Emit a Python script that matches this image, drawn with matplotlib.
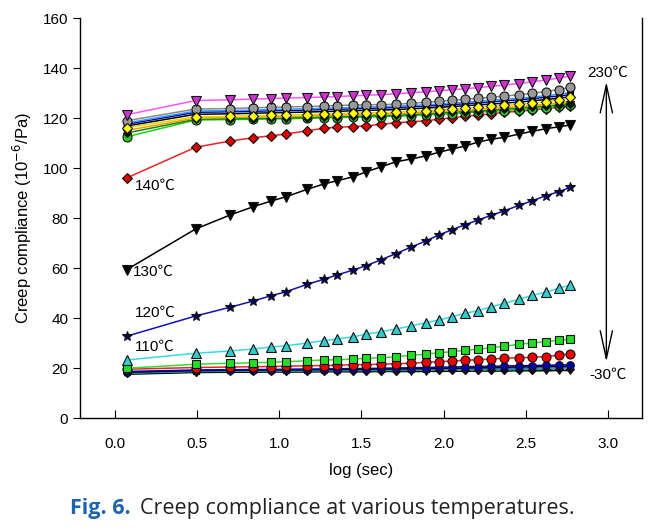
import numpy as np
import matplotlib.pyplot as plt

plt.rcParams['font.family'] = ['Liberation Sans', 'DejaVu Sans']

# log time points (same for every temperature)
log_t = [0.07, 0.49, 0.70, 0.84, 0.95, 1.04, 1.17, 1.27, 1.35, 1.45, 1.53, 1.62, 1.71,
         1.80, 1.89, 1.97, 2.05, 2.13, 2.21, 2.29, 2.37, 2.46, 2.54, 2.62, 2.70, 2.77]

# creep compliance (10^-6 /Pa)
j_230 = [121.3, 127.0, 127.3, 127.6, 127.8, 128.0, 128.2, 128.4, 128.6, 128.9, 129.1, 129.4, 129.7,
         130.1, 130.5, 130.9, 131.3, 131.7, 132.2, 132.7, 133.2, 133.8, 134.5, 135.2, 136.0, 136.8]
j_220 = [118.9, 123.6, 123.8, 124.1, 124.3, 124.4, 124.6, 124.8, 125.0, 125.2, 125.3, 125.4, 125.5,
         125.9, 126.3, 126.7, 127.1, 127.5, 127.9, 128.3, 128.8, 129.3, 129.9, 130.6, 131.4, 132.3]
j_210 = [118.0, 122.8, 123.0, 123.2, 123.4, 123.5, 123.7, 123.9, 124.0, 124.2, 124.4, 124.5, 124.7,
         125.0, 125.3, 125.6, 126.0, 126.3, 126.7, 127.1, 127.5, 127.9, 128.4, 128.9, 129.5, 130.2]
j_200 = [117.5, 122.3, 122.5, 122.7, 122.9, 123.0, 123.2, 123.4, 123.5, 123.7, 123.9, 124.0, 124.2,
         124.5, 124.8, 125.1, 125.4, 125.7, 126.1, 126.5, 126.9, 127.3, 127.8, 128.3, 128.8, 129.4]
j_190 = [116.8, 121.5, 121.7, 121.9, 122.1, 122.2, 122.4, 122.6, 122.7, 122.9, 123.1, 123.2, 123.4,
         123.7, 124.0, 124.3, 124.6, 124.9, 125.3, 125.6, 126.0, 126.4, 126.9, 127.4, 127.9, 128.5]
j_180 = [116.1, 120.5, 120.7, 120.9, 121.1, 121.2, 121.4, 121.6, 121.8, 122.0, 122.1, 122.2, 122.3,
         122.7, 123.0, 123.3, 123.6, 123.9, 124.3, 124.7, 125.1, 125.5, 126.0, 126.6, 127.2, 128.3]
j_170 = [115.0, 120.0, 120.2, 120.4, 120.5, 120.6, 120.8, 121.0, 121.1, 121.3, 121.4, 121.6, 121.7,
         122.0, 122.3, 122.6, 122.9, 123.2, 123.5, 123.9, 124.2, 124.6, 125.0, 125.5, 126.0, 126.6]
j_160 = [114.0, 119.5, 119.7, 119.8, 119.9, 120.0, 120.2, 120.4, 120.5, 120.7, 120.8, 121.0, 121.1,
         121.4, 121.7, 122.0, 122.3, 122.6, 122.9, 123.2, 123.6, 124.0, 124.4, 124.8, 125.3, 125.8]
j_150 = [112.5, 119.2, 119.4, 119.5, 119.6, 119.7, 119.9, 120.0, 120.2, 120.3, 120.4, 120.5, 120.7,
         120.9, 121.2, 121.5, 121.8, 122.1, 122.4, 122.7, 123.0, 123.4, 123.8, 124.2, 124.7, 125.2]
j_140 = [96.0, 108.3, 110.8, 112.1, 112.9, 113.6, 114.9, 115.9, 116.3, 116.6, 116.9, 117.5, 118.1,
         118.5, 118.9, 119.5, 120.1, 120.7, 121.2, 121.7, 122.3, 122.7, 123.3, 123.8, 124.3, 124.8]
j_130 = [59.3, 75.6, 81.2, 84.5, 86.8, 88.5, 91.5, 93.6, 94.9, 96.5, 98.5, 100.5, 102.5,
         103.6, 104.8, 106.3, 107.6, 108.8, 110.4, 111.5, 112.3, 113.6, 114.7, 115.7, 116.5, 117.2]
j_120 = [32.7, 40.8, 44.3, 46.8, 48.9, 50.5, 53.5, 55.5, 57.2, 59.2, 61.0, 63.3, 65.8,
         68.3, 70.8, 73.2, 75.3, 77.3, 79.2, 81.1, 82.9, 85.1, 86.9, 88.9, 90.5, 92.3]
j_110 = [23.2, 25.9, 26.8, 27.6, 28.4, 28.9, 30.0, 30.9, 31.6, 32.5, 33.6, 34.5, 35.6,
         36.8, 38.1, 39.2, 40.5, 41.9, 42.9, 44.5, 45.9, 47.5, 49.1, 50.3, 51.9, 53.2]
j_100 = [19.9, 21.5, 21.9, 22.1, 22.3, 22.5, 22.9, 23.2, 23.3, 23.6, 23.9, 24.1, 24.5,
         25.1, 25.5, 26.1, 26.5, 27.1, 27.5, 28.1, 28.7, 29.5, 30.1, 30.5, 31.1, 31.5]
j_90 = [19.5, 20.2, 20.4, 20.5, 20.6, 20.7, 20.9, 21.0, 21.1, 21.3, 21.4, 21.5, 21.7,
        21.9, 22.3, 22.5, 22.8, 23.1, 23.3, 23.6, 23.9, 24.1, 24.3, 24.6, 25.1, 25.6]
j_80 = [18.6, 19.2, 19.3, 19.4, 19.4, 19.5, 19.6, 19.6, 19.7, 19.8, 19.8, 19.9, 20.0,
        20.1, 20.2, 20.3, 20.4, 20.5, 20.6, 20.7, 20.8, 20.9, 21.0, 21.1, 21.2, 21.3]
j_60 = [18.3, 19.0, 19.1, 19.2, 19.2, 19.3, 19.3, 19.4, 19.4, 19.5, 19.5, 19.6, 19.6,
        19.7, 19.8, 19.9, 19.9, 20.0, 20.1, 20.2, 20.3, 20.4, 20.5, 20.6, 20.7, 20.8]
j_30 = [18.1, 18.8, 18.9, 19.0, 19.0, 19.1, 19.1, 19.2, 19.2, 19.3, 19.3, 19.3, 19.4,
        19.4, 19.5, 19.5, 19.6, 19.6, 19.7, 19.8, 19.8, 19.9, 20.0, 20.0, 20.1, 20.2]
j_0 = [17.9, 18.6, 18.7, 18.7, 18.8, 18.8, 18.8, 18.9, 18.9, 18.9, 19.0, 19.0, 19.0,
       19.1, 19.1, 19.1, 19.2, 19.2, 19.2, 19.3, 19.3, 19.4, 19.4, 19.5, 19.5, 19.6]
j_m30 = [17.5, 18.2, 18.3, 18.3, 18.4, 18.4, 18.4, 18.5, 18.5, 18.5, 18.5, 18.6, 18.6,
         18.6, 18.6, 18.7, 18.7, 18.7, 18.8, 18.8, 18.8, 18.9, 18.9, 18.9, 19.0, 19.0]

# (values, line colour, marker, marker fill, marker size)
series = [
    (j_m30, '#000000', 'v', '#000000', 5),
    (j_0, '#22AA55', 'D', '#000000', 4),
    (j_30, '#3366FF', 'o', '#000000', 4),
    (j_60, '#000000', 's', '#000000', 4),
    (j_80, '#0000AA', 'o', '#0000AA', 5.5),
    (j_90, '#EE2222', 'o', '#EE0000', 6.5),
    (j_100, '#33DD33', 's', '#22DD22', 6),
    (j_110, '#33DDDD', '^', '#33CCCC', 6.5),
    (j_120, '#1111BB', '*', '#000066', 7.5),
    (j_130, '#000000', 'v', '#000000', 6.5),
    (j_140, '#EE2222', 'D', '#DD0000', 5.5),
    (j_150, '#22CC22', 'o', '#22CC22', 6.5),
    (j_160, '#118811', 'D', '#000000', 4),
    (j_170, '#FF9900', '*', '#000000', 6),
    (j_190, '#000000', 'o', '#000000', 5),
    (j_200, '#000099', 'o', '#000099', 4),
    (j_210, '#3399FF', 's', '#000000', 4),
    (j_220, '#888888', 'o', '#999999', 6.5),
    (j_180, '#DDDD00', 'D', '#FFFF00', 5.5),
    (j_230, '#FF55FF', 'v', '#CC33CC', 6.5),
]

fig = plt.figure(figsize=(6.59, 5.31), dpi=100)
ax = fig.add_axes([0.1214, 0.2128, 0.8528, 0.7532])

for vals, lc, mk, mfc, ms in series:
    ax.plot(log_t, vals, '-', color=lc, linewidth=1.1, marker=mk,
            markerfacecolor=mfc, markeredgecolor='#111111', markeredgewidth=0.8,
            markersize=ms)

# temperature labels
for x, y, s in [(0.12, 92.8, '140℃'), (0.11, 58.4, '130℃'),
                (0.12, 42.0, '120℃'), (0.12, 28.4, '110℃')]:
    ax.text(x, y, s, fontsize=11, ha='left', va='center',
            family=['Liberation Sans', 'Noto Sans CJK JP'])

ax.text(3.0, 137.9, '230℃', fontsize=11, ha='center', va='center',
        family=['Liberation Sans', 'Noto Sans CJK JP'])
ax.text(3.0, 17.3, '-30℃', fontsize=11, ha='center', va='center',
        family=['Liberation Sans', 'Noto Sans CJK JP'])
ax.annotate('', xy=(2.99, 134.5), xytext=(2.99, 22.5),
            arrowprops=dict(arrowstyle='<->, head_length=1.0, head_width=0.22',
                            mutation_scale=20, color='black', lw=1.0,
                            shrinkA=0, shrinkB=0))

ax.set_xlim(-0.213, 3.207)
ax.set_ylim(0, 160)
ax.set_xticks(np.arange(0, 3.01, 0.5))
ax.set_xticklabels(['0.0', '0.5', '1.0', '1.5', '2.0', '2.5', '3.0'])
ax.set_yticks(np.arange(0, 161, 20))
ax.tick_params(axis='x', direction='in', length=6, pad=14, labelsize=11)
ax.tick_params(axis='y', direction='out', length=5, labelsize=11)
ax.spines['top'].set_visible(False)
for sp in ['left', 'bottom', 'right']:
    ax.spines[sp].set_linewidth(1.0)

ax.set_xlabel('log (sec)', fontsize=12, labelpad=8)
ax.set_ylabel('Creep compliance (10$^{-6}$/Pa)', fontsize=12, labelpad=6)

# caption
fig.text(0.106, 0.043, 'Fig. 6.', fontsize=15.5, fontweight='bold', color='#1E63B0',
         family='Open Sans', ha='left', va='center')
fig.text(0.213, 0.043, 'Creep compliance at various temperatures.', fontsize=15.5,
         color='#222222', family='Open Sans', ha='left', va='center')

fig.savefig('out.png', dpi=100)
